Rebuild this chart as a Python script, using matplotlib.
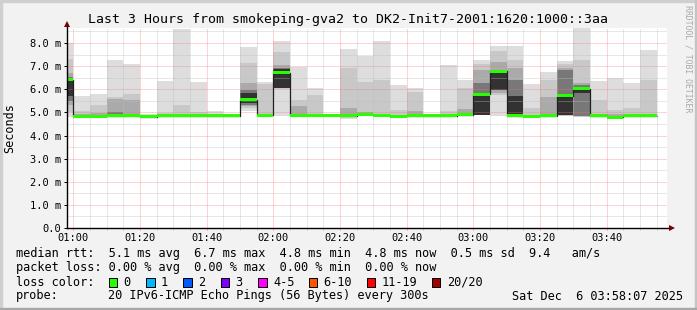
import numpy as np
import matplotlib
matplotlib.use("Agg")
import matplotlib.pyplot as plt
from matplotlib.patches import Rectangle

nan = np.nan
MONO = "DejaVu Sans Mono"

# ---- data (minutes after 01:00; each sample covers the 5 minutes before its time) ----
t_end = [0, 5, 10, 15, 20, 25, 30, 35, 40, 45, 50, 55, 60, 65, 70, 75, 80, 85,
         90, 95, 100, 105, 110, 115, 120, 125, 130, 135, 140, 145, 150, 155, 160, 165, 170, 175]
step = 5

median = [6.42, 4.83, 4.84, 4.86, 4.86, 4.82, 4.85, 4.85, 4.85, 4.85, 4.85, 5.55,
          4.87, 6.71, 4.87, 4.87, 4.87, 4.86, 4.93, 4.87, 4.83, 4.85, 4.85, 4.85,
          4.90, 5.78, 6.78, 4.86, 4.83, 4.86, 5.73, 6.03, 4.86, 4.80, 4.86, 4.86]

# smoke layers (outer -> inner), ms
l1_lo = [4.78, 4.80, 4.80, 4.80, 4.80, 4.76, 4.80, 4.80, 4.80, 4.78, nan, 5.05,
         4.82, 4.85, 4.80, 4.80, 4.84, 4.73, 4.85, 4.80, 4.75, 4.80, 4.82, 4.80,
         4.83, 4.88, 4.83, 4.83, 4.80, 4.83, 4.85, 4.80, 4.80, 4.73, 4.80, 4.80]
l1_hi = [8.00, 5.73, 5.81, 7.25, 7.11, 4.92, 6.35, 8.61, 6.30, 5.08, nan, 7.82,
         6.30, 8.10, 6.95, 6.06, 4.90, 7.75, 7.43, 8.10, 6.20, 6.06, 4.90, 7.04,
         6.39, 7.28, 7.89, 7.86, 6.24, 6.74, 7.24, 8.70, 6.35, 6.49, 6.28, 7.69]
l2_lo = [5.00, 4.81, 4.82, 4.82, 4.82, nan, 4.82, 4.82, 4.82, nan, nan, 5.20,
         4.84, 6.03, 4.83, 4.83, nan, 4.80, 4.88, 4.83, 4.80, 4.82, nan, 4.82,
         4.85, 4.89, 5.77, 4.84, 4.82, 4.84, 4.86, 4.82, 4.83, 4.76, 4.83, 4.83]
l2_hi = [7.30, 5.08, 5.34, 5.65, 5.81, nan, 4.97, 5.34, 5.02, nan, nan, 7.15,
         6.24, 7.60, 5.55, 5.77, nan, 6.92, 6.30, 6.42, 5.12, 5.87, nan, 5.08,
         6.06, 7.10, 7.65, 7.28, 5.19, 6.42, 7.10, 7.26, 5.55, 5.12, 5.19, 6.39]
l3_lo = [5.30, 4.82, 4.83, 4.84, 4.84, nan, nan, nan, nan, nan, nan, 5.28,
         nan, 6.04, 4.85, nan, nan, 4.82, 4.90, nan, nan, 4.84, nan, nan,
         4.87, 4.89, 5.85, 4.85, nan, 4.85, 4.87, 4.83, nan, 4.78, nan, nan]
l3_hi = [6.70, 4.95, 4.98, 5.60, 5.55, nan, nan, nan, nan, nan, nan, 6.28,
         nan, 7.06, 5.29, nan, nan, 5.20, 5.00, nan, nan, 5.05, nan, nan,
         5.15, 6.85, 7.20, 6.90, nan, 5.67, 6.90, 6.28, nan, 4.95, nan, nan]
l4_lo = [5.50, nan, nan, 4.85, nan, nan, nan, nan, nan, nan, nan, 5.34,
         nan, 6.05, nan, nan, nan, nan, nan, nan, nan, nan, nan, nan,
         nan, 4.90, 5.95, 4.85, nan, nan, 4.88, 4.84, nan, nan, nan, nan]
l4_hi = [6.55, nan, nan, 5.00, nan, nan, nan, nan, nan, nan, nan, 5.95,
         nan, 6.93, nan, nan, nan, nan, nan, nan, nan, nan, nan, nan,
         nan, 6.28, 6.85, 6.42, nan, nan, 6.85, 6.20, nan, nan, nan, nan]
l5_lo = [5.70, nan, nan, nan, nan, nan, nan, nan, nan, nan, nan, 5.40,
         nan, 6.06, nan, nan, nan, nan, nan, nan, nan, nan, nan, nan,
         nan, 4.90, 5.99, 4.85, nan, nan, 4.88, 5.84, nan, nan, nan, nan]
l5_hi = [6.45, nan, nan, nan, nan, nan, nan, nan, nan, nan, nan, 5.85,
         nan, 6.88, nan, nan, nan, nan, nan, nan, nan, nan, nan, nan,
         nan, 5.82, 6.82, 5.70, nan, nan, 5.80, 6.10, nan, nan, nan, nan]

y_ticks = [0, 1, 2, 3, 4, 5, 6, 7, 8]
y_labels = ["0.0", "1.0 m", "2.0 m", "3.0 m", "4.0 m", "5.0 m", "6.0 m", "7.0 m", "8.0 m"]
x_ticks = [0, 20, 40, 60, 80, 100, 120, 140, 160]
x_labels = ["01:00", "01:20", "01:40", "02:00", "02:20", "02:40", "03:00", "03:20", "03:40"]

title = "Last 3 Hours from smokeping-gva2 to DK2-Init7-2001:1620:1000::3aa"
line_rtt = "median rtt:  5.1 ms avg  6.7 ms max  4.8 ms min  4.8 ms now  0.5 ms sd  9.4   am/s"
line_loss = "packet loss: 0.00 % avg  0.00 % max  0.00 % min  0.00 % now"
loss_names = ["0", "1", "2", "3", "4-5", "6-10", "11-19", "20/20"]
loss_colors = ["#26ff00", "#00b8ff", "#0059ff", "#7e00ff", "#ff00ff", "#ff5500", "#ff0000", "#a00000"]
probe_text = "20 IPv6-ICMP Echo Pings (56 Bytes) every 300s"
date_text = "Sat Dec  6 03:58:07 2025"

# ---- figure ----
W, H = 697, 310
fig = plt.figure(figsize=(W / 100, H / 100), dpi=100, facecolor="#f2f2f2")

def fx(px):
    return px / W

def fy(py):
    return 1 - py / H

# frame
fig.patches.append(Rectangle((0, 0), fx(2), 1, transform=fig.transFigure, color="#cfcfcf", zorder=0))
fig.patches.append(Rectangle((0, fy(2)), 1, fx(2) * W / H, transform=fig.transFigure, color="#cfcfcf", zorder=0))
fig.patches.append(Rectangle((fx(695), 0), fx(2), 1, transform=fig.transFigure, color="#c4c4c4", zorder=0))
fig.patches.append(Rectangle((0, 0), 1, 2 / H, transform=fig.transFigure, color="#a8a8a8", zorder=0))

ax = fig.add_axes([fx(67), fy(228), fx(600), 200 / H])
ax.set_facecolor("white")
x0 = -1.883
ax.set_xlim(x0, x0 + 180)
ax.set_ylim(0, 8.65)

t_end_a = np.array(t_end, float)
left = t_end_a - step
med = np.array(median)

grays = ["#dddddd", "#c8c8c8", "#aaaaaa", "#787878", "#323232"]
layers = [(l1_lo, l1_hi), (l2_lo, l2_hi), (l3_lo, l3_hi), (l4_lo, l4_hi), (l5_lo, l5_hi)]
for (lo, hi), g in zip(layers, grays):
    lo = np.array(lo); hi = np.array(hi)
    m = ~np.isnan(lo)
    ax.bar(left[m], hi[m] - lo[m], bottom=lo[m], width=step, align="edge",
           color=g, linewidth=0, zorder=1)

# median: dark step line plus green loss-colour bands
edges = np.concatenate([[left[0]], t_end_a])
ax.stairs(med, edges, baseline=None, color="#202020", linewidth=0.9, zorder=3)
band = 0.13
ax.bar(left, band, bottom=med - band / 2, width=step, align="edge",
       color=loss_colors[0], linewidth=0, zorder=4)

# grid
ax.set_xticks(x_ticks)
ax.set_xticks(np.arange(-0, 180, 5), minor=True)
ax.set_yticks(y_ticks)
ax.set_yticks(np.arange(0, 8.6, 0.5), minor=True)
ax.set_axisbelow(False)
ax.grid(which="minor", color="#bdbdbd", alpha=0.7, linestyle=(0, (1, 1)), linewidth=0.72)
ax.grid(which="major", color="#ff7070", alpha=0.6, linestyle=(0, (1, 1)), linewidth=0.72)

for s in ax.spines.values():
    s.set_visible(False)

ax.set_yticklabels(y_labels, fontsize=7.45, family=MONO, color="#000000")
ax.tick_params(axis="y", which="major", length=2.5, width=0.72, color="#000000", pad=2.0)
ax.tick_params(axis="y", which="minor", length=0)
ax.tick_params(axis="x", which="major", length=1.6, width=0.72, color="#ff9090", labelbottom=False)
ax.tick_params(axis="x", which="minor", length=1.6, width=0.72, color="#c8c8c8")

for xv, lab in zip(x_ticks, x_labels):
    ax.annotate(lab, xy=(xv, 0), xycoords=("data", "axes fraction"),
                xytext=(0, -7.4), textcoords="offset points",
                ha="center", va="center", fontsize=7.45, family=MONO)

# axis lines with arrows
ax.plot([0, 1.006], [0, 0], transform=ax.transAxes, color="black", lw=1.0, clip_on=False, zorder=5)
ax.plot([0, 0], [0, 1.015], transform=ax.transAxes, color="black", lw=1.0, clip_on=False, zorder=5)
ax.plot([1.008], [0], transform=ax.transAxes, marker=">", markersize=4, color="#7a0000",
        clip_on=False, zorder=6, markeredgewidth=0)
ax.plot([0], [1.02], transform=ax.transAxes, marker="^", markersize=4, color="#7a0000",
        clip_on=False, zorder=6, markeredgewidth=0)

# texts
fig.text(fx(347.5), fy(19), title, ha="center", va="center", fontsize=9.55, family=MONO)
fig.text(fx(10), fy(128), "Seconds", rotation=90, ha="center", va="center", fontsize=8.5, family=MONO)
fig.text(fx(688), fy(5), "RRDTOOL / TOBI OETIKER", rotation=270, ha="center", va="top",
         fontsize=5.85, family=MONO, color="#a8a8a8")

fs = 8.53
fig.text(fx(16), fy(254), line_rtt, ha="left", va="center", fontsize=fs, family=MONO)
fig.text(fx(16), fy(268), line_loss, ha="left", va="center", fontsize=fs, family=MONO)
fig.text(fx(16), fy(282), "loss color:", ha="left", va="center", fontsize=fs, family=MONO)
sq_x = [108.5, 146, 183.5, 220.5, 258, 308.5, 367, 432]
for xs, name, col in zip(sq_x, loss_names, loss_colors):
    fig.patches.append(Rectangle((fx(xs), fy(286.5)), fx(8.5), 8.5 / H, transform=fig.transFigure,
                                 facecolor=col, edgecolor="black", linewidth=0.72, zorder=3))
    fig.text(fx(xs + 15), fy(282), name, ha="left", va="center", fontsize=fs, family=MONO)
fig.text(fx(16), fy(296), "probe:", ha="left", va="center", fontsize=fs, family=MONO)
fig.text(fx(108), fy(296), probe_text, ha="left", va="center", fontsize=fs, family=MONO)
fig.text(fx(683), fy(296), date_text, ha="right", va="center", fontsize=fs, family=MONO)

fig.savefig("out.png", dpi=100, facecolor=fig.get_facecolor())
